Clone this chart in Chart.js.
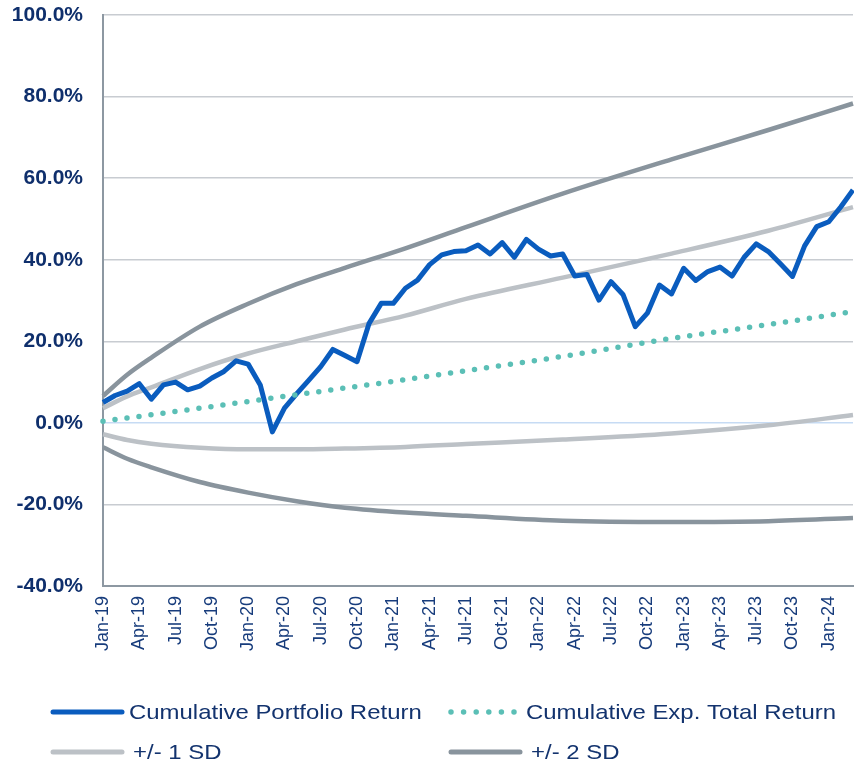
<!DOCTYPE html>
<html>
<head>
<meta charset="utf-8">
<script src="https://cdn.jsdelivr.net/npm/chart.js@4/dist/chart.umd.min.js"></script>
<style>
  html, body { margin: 0; padding: 0; background: #ffffff; }
  #wrap { width: 854px; height: 767px; }
</style>
</head>
<body>
<div id="wrap"><canvas id="chart" width="854" height="767"></canvas></div>
<script>
// --- Data ---
const tickLabels = ['Jan-19','Apr-19','Jul-19','Oct-19','Jan-20','Apr-20','Jul-20','Oct-20',
  'Jan-21','Apr-21','Jul-21','Oct-21','Jan-22','Apr-22','Jul-22','Oct-22',
  'Jan-23','Apr-23','Jul-23','Oct-23','Jan-24'];

// monthly, Jan-19 .. Mar-24
const portfolioReturn = [5.0, 6.7, 7.8, 9.6, 5.8, 9.3, 10.0, 8.1, 9.0, 11.0, 12.6, 15.2,
  14.4, 9.3, -2.2, 3.6, 7.1, 10.4, 13.8, 18.0, 16.5, 15.0, 24.4, 29.3,
  29.3, 33.0, 35.0, 38.8, 41.2, 42.0, 42.2, 43.6, 41.4, 44.2, 40.6, 45.0,
  42.6, 40.9, 41.4, 36.0, 36.4, 30.1, 34.6, 31.4, 23.6, 26.9, 33.8, 31.6,
  37.9, 34.9, 37.1, 38.2, 36.0, 40.6, 43.9, 42.0, 39.0, 35.9, 43.4, 48.1,
  49.3, 53.0, 57.1];

// smooth lines, read at these month positions
const expMonths = [0, 8, 16, 25, 30, 38, 47, 55, 62];
const expReturn = [0.4, 3.6, 6.9, 10.6, 12.8, 16.3, 20.7, 24.1, 27.3];

const sdMonths = [0, 2, 4, 8, 12, 16, 20, 25, 30, 38, 47, 55, 62];
const plus2Sd  = [6.6, 11.8, 16.0, 23.6, 29.2, 34.0, 38.0, 42.8, 48.0, 56.2, 64.6, 71.8, 78.3];
const plus1Sd  = [3.6, 6.5, 8.7, 13.2, 17.0, 20.0, 22.9, 26.3, 30.4, 35.6, 41.5, 47.1, 52.9];
const minus1Sd = [-2.8, -4.2, -5.1, -6.1, -6.5, -6.5, -6.3, -5.9, -5.2, -4.1, -2.6, -0.6, 1.9];
const minus2Sd = [-6.0, -8.8, -10.9, -14.5, -17.1, -19.2, -20.8, -22.0, -22.8, -24.0, -24.3, -24.1, -23.3];

// --- Colours ---
const blue = '#0a5cbe';
const teal = '#5bbfb6';
const lightGray = '#bcc1c6';
const darkGray = '#89949d';
const navy = '#13336e';

const toPoints = (xs, ys) => xs.map((x, i) => ({ x: x, y: ys[i] }));

const datasets = [
  { label: 'Cumulative Exp. Total Return', data: toPoints(expMonths, expReturn), borderColor: teal,
    borderWidth: 5.5, borderDash: [0, 12.1], borderCapStyle: 'round', cubicInterpolationMode: 'monotone', order: 0 },
  { label: 'Cumulative Portfolio Return', data: portfolioReturn.map((v, i) => ({ x: i, y: v })), borderColor: blue,
    borderWidth: 5, tension: 0, borderJoinStyle: 'round', order: 1 },
  { label: '+/- 1 SD', data: toPoints(sdMonths, plus1Sd), borderColor: lightGray, borderWidth: 4.5,
    cubicInterpolationMode: 'monotone', order: 2 },
  { label: '+/- 1 SD lower', data: toPoints(sdMonths, minus1Sd), borderColor: lightGray, borderWidth: 4.5,
    cubicInterpolationMode: 'monotone', order: 3 },
  { label: '+/- 2 SD', data: toPoints(sdMonths, plus2Sd), borderColor: darkGray, borderWidth: 4.5,
    cubicInterpolationMode: 'monotone', order: 4 },
  { label: '+/- 2 SD lower', data: toPoints(sdMonths, minus2Sd), borderColor: darkGray, borderWidth: 4.5,
    cubicInterpolationMode: 'monotone', order: 5 }
];
datasets.forEach(ds => { ds.pointRadius = 0; ds.fill = false; ds.clip = 4; });

// --- Legend (two fixed columns, drawn under the axis) ---
const legendItems = [
  { text: 'Cumulative Portfolio Return', color: blue, dotted: false, x: 52, y: 712, tx: 129 },
  { text: 'Cumulative Exp. Total Return', color: teal, dotted: true, x: 450, y: 712, tx: 526 },
  { text: '+/- 1 SD', color: lightGray, dotted: false, x: 52, y: 752, tx: 133 },
  { text: '+/- 2 SD', color: darkGray, dotted: false, x: 450, y: 752, tx: 531 }
];

const legendPlugin = {
  id: 'columnLegend',
  afterDraw(chart) {
    const ctx = chart.ctx;
    ctx.save();
    legendItems.forEach(item => {
      ctx.beginPath();
      ctx.strokeStyle = item.color;
      ctx.lineCap = 'round';
      if (item.dotted) {
        ctx.lineWidth = 5.5;
        ctx.setLineDash([0, 12.6]);
        ctx.moveTo(item.x + 1, item.y);
        ctx.lineTo(item.x + 66, item.y);
      } else {
        ctx.lineWidth = 5;
        ctx.setLineDash([]);
        ctx.moveTo(item.x + 1, item.y);
        ctx.lineTo(item.x + 70, item.y);
      }
      ctx.stroke();
      ctx.setLineDash([]);
      // legend text is a little wider than the plain font, so stretch it sideways
      ctx.save();
      ctx.translate(item.tx, item.y + 1);
      ctx.scale(1.14, 1);
      ctx.fillStyle = navy;
      ctx.font = '21px "Liberation Sans", Arial, sans-serif';
      ctx.textBaseline = 'middle';
      ctx.textAlign = 'left';
      ctx.fillText(item.text, 0, 0);
      ctx.restore();
    });
    ctx.restore();
  }
};

new Chart(document.getElementById('chart').getContext('2d'), {
  type: 'line',
  data: { datasets: datasets },
  plugins: [legendPlugin],
  options: {
    responsive: false,
    animation: false,
    layout: { padding: { top: 15, right: 1, bottom: 101, left: 0 } },
    plugins: { legend: { display: false }, tooltip: { enabled: false } },
    scales: {
      x: {
        type: 'linear',
        min: 0,
        max: 62,
        afterFit: scale => { scale.height = 80; scale.paddingRight = 0; scale.paddingLeft = 0; },
        grid: { display: false, drawTicks: false },
        border: { display: true, color: '#8d98a2', width: 2 },
        ticks: {
          stepSize: 3,
          autoSkip: false,
          includeBounds: false,
          minRotation: 90,
          maxRotation: 90,
          padding: 10,
          color: '#173c7c',
          font: { family: '"Liberation Sans", Arial, sans-serif', size: 18 },
          callback: v => (v % 3 === 0 ? tickLabels[v / 3] : '')
        }
      },
      y: {
        min: -40,
        max: 100,
        afterFit: scale => { scale.width = 103; scale.paddingTop = 0; scale.paddingBottom = 0; },
        grid: {
          drawTicks: false,
          lineWidth: 1.5,
          color: c => (c.tick && c.tick.value === 0 ? '#c6dbf4' : '#c8ccd1')
        },
        border: { display: true, color: '#8d98a2', width: 2 },
        ticks: {
          stepSize: 20,
          padding: 20,
          color: '#0f2f6c',
          font: { family: '"Liberation Sans", Arial, sans-serif', size: 21, weight: 'bold' },
          callback: v => v.toFixed(1) + '%'
        }
      }
    }
  }
});
</script>
</body>
</html>
